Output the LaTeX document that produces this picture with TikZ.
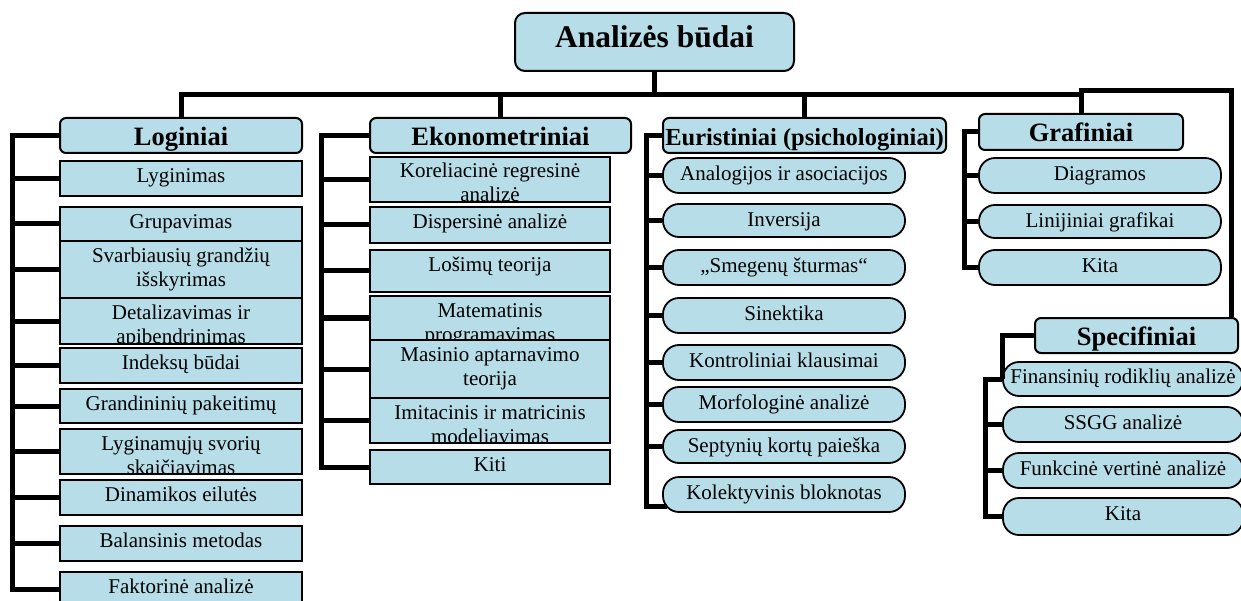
\documentclass[tikz,border=0pt]{standalone}
\usepackage{fontspec}
\setmainfont{Liberation Serif}[Ligatures=CommonOff]
\definecolor{boxfill}{HTML}{B7DEE8}
\newcommand\bodyfont{\fontsize{21pt}{24pt}\selectfont}
\newcommand\headfont{\fontsize{26.5pt}{30pt}\selectfont\bfseries}
\tikzset{
  conn/.style={line width=5pt, line join=miter},
  rbox/.style={draw=black, line width=1.6pt, fill=boxfill, inner sep=0pt},
  pill/.style={draw=black, line width=1.8pt, fill=boxfill, inner sep=0pt, rounded corners=16pt},
  hbox/.style={draw=black, line width=2pt, fill=boxfill, rounded corners=6pt, inner sep=0pt,
    font=\headfont, text height=27.5pt, text depth=7.5pt},
  txt/.style={anchor=north, inner sep=0pt, align=center, font=\bodyfont},
}
\newcommand\mkbox[8]{%
  \node[#2, minimum width=#5pt, minimum height=#6pt] (#1) at (#3,#4) {};
  \begin{scope}
    \clip (#1.south west) rectangle (#1.north east);
    \node[txt] (#1t) at ([yshift=-#7pt]#1.north) {\strut #8};
  \end{scope}}
\begin{document}
\begin{tikzpicture}[x=1pt,y=-1pt]
\useasboundingbox (0,0) rectangle (1241,601);
% root
\node[hbox, minimum width=279pt, rounded corners=10pt, text height=35pt, text depth=23pt,
  font=\fontsize{31.5pt}{36pt}\selectfont\bfseries] (root) at (654.5,42) {Analizės būdai};
% headers
\node[hbox, minimum width=242pt] (Lh) at (181,135.5) {Loginiai};
\node[hbox, minimum width=261pt] (Eh) at (500.5,135.5) {Ekonometriniai};
\node[hbox, minimum width=283pt, font=\fontsize{24.5pt}{28pt}\selectfont\bfseries] (Uh) at (804.5,135.5) {Euristiniai (psichologiniai)};
\node[hbox, minimum width=204pt, text height=28pt, text depth=8pt] (Gh) at (1081,132) {Grafiniai};
\node[hbox, minimum width=203pt] (Sh) at (1136.5,335.5) {Specifiniai};
% Loginiai
\mkbox{L1}{rbox}{181}{178.5}{242}{35}{5.2}{Lyginimas}
\mkbox{L2}{rbox}{181}{224}{242}{34}{5.2}{Grupavimas}
\mkbox{L3}{rbox}{181}{269.5}{242}{57}{5.2}{Svarbiausių grandžių\\išskyrimas}
\mkbox{L4}{rbox}{181}{321}{242}{46}{5.2}{Detalizavimas ir\\apibendrinimas}
\mkbox{L5}{rbox}{181}{365.5}{242}{35}{5.2}{Indeksų būdai}
\mkbox{L6}{rbox}{181}{406}{242}{34}{5.2}{Grandininių pakeitimų}
\mkbox{L7}{rbox}{181}{451.5}{242}{45}{5.2}{Lyginamųjų svorių\\skaičiavimas}
\mkbox{L8}{rbox}{181}{497.5}{242}{35}{5.2}{Dinamikos eilutės}
\mkbox{L9}{rbox}{181}{543.5}{242}{35}{5.2}{Balansinis metodas}
\mkbox{L10}{rbox}{181}{589.5}{242}{35}{5.2}{Faktorinė analizė}
% Ekonometriniai
\mkbox{E1}{rbox}{490}{179.5}{240}{45}{4.2}{Koreliacinė regresinė\\analizė}
\mkbox{E2}{rbox}{490}{225}{240}{36}{5.2}{Dispersinė analizė}
\mkbox{E3}{rbox}{490}{271}{240}{42}{5.2}{Lošimų teorija}
\mkbox{E4}{rbox}{490}{318}{240}{44}{5.2}{Matematinis\\programavimas}
\mkbox{E5}{rbox}{490}{369}{240}{58}{5.2}{Masinio aptarnavimo\\teorija}
\mkbox{E6}{rbox}{490}{420.5}{240}{45}{5.2}{Imitacinis ir matricinis\\modeliavimas}
\mkbox{E7}{rbox}{490}{467}{240}{34}{5.2}{Kiti}
% Euristiniai
\mkbox{U1}{pill}{784}{175.5}{242}{35}{6.7}{Analogijos ir asociacijos}
\mkbox{U2}{pill}{784}{220.5}{242}{33}{6.7}{Inversija}
\mkbox{U3}{pill}{784}{267.5}{242}{35}{6.7}{„Smegenų šturmas“}
\mkbox{U4}{pill}{784}{315.5}{242}{35}{6.7}{Sinektika}
\mkbox{U5}{pill}{784}{362.5}{242}{35}{6.7}{Kontroliniai klausimai}
\mkbox{U6}{pill}{784}{404.5}{242}{35}{6.7}{Morfologinė analizė}
\mkbox{U7}{pill}{784}{446.5}{242}{33}{6.7}{Septynių kortų paieška}
\mkbox{U8}{pill}{784}{494.5}{242}{35}{6.7}{Kolektyvinis bloknotas}
% Grafiniai
\mkbox{G1}{pill}{1100}{175.5}{242}{35}{6.7}{Diagramos}
\mkbox{G2}{pill}{1100}{221.5}{242}{33}{6.7}{Linijiniai grafikai}
\mkbox{G3}{pill}{1100}{267.5}{242}{35}{6.7}{Kita}
% Specifiniai
\mkbox{S1}{pill}{1123}{379}{240}{34}{5.2}{Finansinių rodiklių analizė}
\mkbox{S2}{pill}{1123}{424.5}{240}{35}{6.7}{SSGG analizė}
\mkbox{S3}{pill}{1123}{470.5}{240}{35}{6.7}{Funkcinė vertinė analizė}
\mkbox{S4}{pill}{1123}{516.5}{240}{37}{6.7}{Kita}
% main connectors
\coordinate (bus) at (0,95);
\coordinate (sr) at (1231,91);
\draw[conn] (root.south) -- (root.south |- bus);
\draw[conn] (Lh.north) -- (Lh.north |- bus) -- (Gh.north |- bus);
\draw[conn] (Eh.north) -- (Eh.north |- bus);
\draw[conn] (Uh.north) -- (Uh.north |- bus);
\draw[conn] (Gh.north) -- (Gh.north |- sr) -- (sr) -- (sr |- Sh.north);
% Loginiai bracket
\coordinate (Lx) at (12,0);
\draw[conn] (Lh.west) -| (Lx |- L10.west) -- (L10.west);
\foreach \n in {L1,L2,L3,L4,L5,L6,L7,L8,L9} \draw[conn] (Lx |- \n.west) -- (\n.west);
% Ekonometriniai bracket
\coordinate (Ex) at (321,0);
\draw[conn] (Eh.west) -| (Ex |- E7.west) -- (E7.west);
\foreach \n in {E1,E2,E3,E4,E5,E6} \draw[conn] (Ex |- \n.west) -- (\n.west);
% Euristiniai bracket
\coordinate (Ux) at (646,0);
\coordinate (U8b) at ([xshift=5pt,yshift=-12pt]U8.west);
\draw[conn] (Uh.west) -| (Ux |- U8b) -- (U8b);
\foreach \n in {U1,U2,U3,U4,U5,U6,U7} \draw[conn] (Ux |- \n.west) -- (\n.west);
% Grafiniai bracket
\coordinate (Gx) at (964,0);
\draw[conn] (Gh.west) -| (Gx |- G3.west) -- (G3.west);
\foreach \n in {G1,G2} \draw[conn] (Gx |- \n.west) -- (\n.west);
% Specifiniai brackets
\coordinate (Sx) at (1002,0);
\draw[conn] (Sh.west) -| (Sx |- S1.west);
\coordinate (Sy) at (985,0);
\draw[conn] (S1.west) -- (Sy |- S1.west) -- (Sy |- S4.west) -- (S4.west);
\foreach \n in {S2,S3} \draw[conn] (Sy |- \n.west) -- (\n.west);
\end{tikzpicture}
\end{document}
